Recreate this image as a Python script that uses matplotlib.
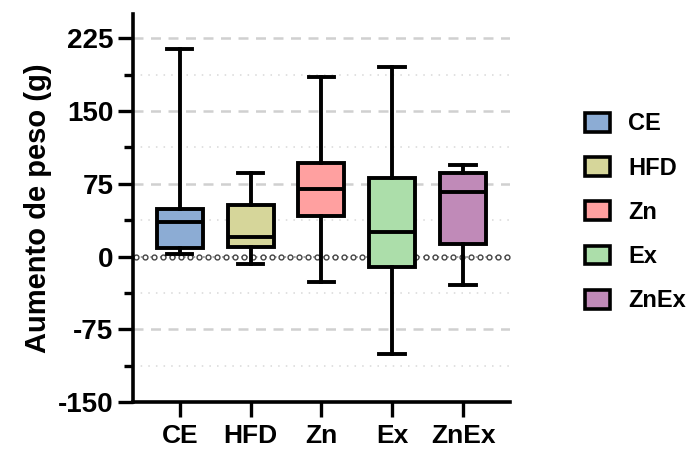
import numpy as np
import matplotlib.pyplot as plt
from matplotlib.patches import Patch

plt.rcParams['font.family'] = ['Liberation Sans', 'DejaVu Sans']
plt.rcParams['font.weight'] = 'bold'
plt.rcParams['axes.unicode_minus'] = False

groups = ["CE", "HFD", "Zn", "Ex", "ZnEx"]
colors = ["#8cacd4", "#d6d69a", "#ffa0a0", "#acdeaa", "#c08ab8"]
whislo = [2.8, -7.5, -26.5, -100.0, -29.6]
q1 = [8.6, 10.3, 42.0, -11.0, 12.7]
med = [36.0, 20.3, 69.9, 24.8, 66.4]
q3 = [48.5, 53.6, 96.7, 80.5, 85.6]
whishi = [213.6, 85.6, 184.7, 195.0, 94.6]

stats = [dict(label=g, whislo=a, q1=b, med=c, q3=d, whishi=e, fliers=[])
         for g, a, b, c, d, e in zip(groups, whislo, q1, med, q3, whishi)]

fig = plt.figure(figsize=(6.94, 4.51), dpi=100)
ax = fig.add_axes([0.1916, 0.1086, 0.543, 0.8604])

lw = 2.8
pos = np.arange(1, len(groups) + 1)
bp = ax.bxp(stats, positions=pos, widths=0.65, patch_artist=True, showfliers=False,
            capwidths=0.36,
            boxprops=dict(linewidth=lw, edgecolor="black"),
            whiskerprops=dict(linewidth=lw, color="black"),
            capprops=dict(linewidth=lw, color="black"),
            medianprops=dict(linewidth=lw, color="black"),
            zorder=3)
for box, c in zip(bp["boxes"], colors):
    box.set_facecolor(c)

xmin, xmax = 0.34, 5.66
ax.set_xlim(xmin, xmax)
ax.set_ylim(-150, 250)

# grid
for y in [-75, 75, 150, 225]:
    ax.axhline(y, color="#d0d0d0", lw=1.8, ls=(0, (4, 3)), zorder=1)
for y in [-112.5, -37.5, 37.5, 112.5, 187.5]:
    ax.axhline(y, color="#d8d8d8", lw=1.1, ls=(0, (1, 4)), zorder=1)
xs = np.linspace(xmin + 0.04, xmax - 0.04, 42)
ax.plot(xs, np.zeros_like(xs), ls=":", color="#999999", lw=1.3, marker="o",
        ms=3.5, mfc="white", mec="#444444", mew=1.0, zorder=2)

ax.set_yticks([-150, -75, 0, 75, 150, 225])
ax.set_yticks([-112.5, -37.5, 37.5, 112.5, 187.5], minor=True)
ax.set_xticks(pos)
ax.set_xticklabels(groups)
ax.tick_params(axis="both", which="major", width=2.4, length=11, labelsize=20)
ax.tick_params(axis="y", which="minor", width=2.4, length=6.5)
ax.tick_params(axis="y", pad=3)
ax.tick_params(axis="x", pad=5, labelsize=19)
for s in ["top", "right"]:
    ax.spines[s].set_visible(False)
for s in ["left", "bottom"]:
    ax.spines[s].set_linewidth(2.6)
ax.set_ylabel("Aumento de peso (g)", fontsize=21, fontweight="bold", labelpad=4)

handles = [Patch(facecolor=c, edgecolor="black", linewidth=2.6, label=g)
           for g, c in zip(groups, colors)]
fig.legend(handles=handles, loc="center left", bbox_to_anchor=(0.843, 0.529),
           frameon=False, handlelength=1.06, handleheight=0.85,
           labelspacing=0.9, handletextpad=0.76, borderpad=0, borderaxespad=0,
           prop=dict(weight="bold", size=17))

fig.savefig("out.png", dpi=100)
